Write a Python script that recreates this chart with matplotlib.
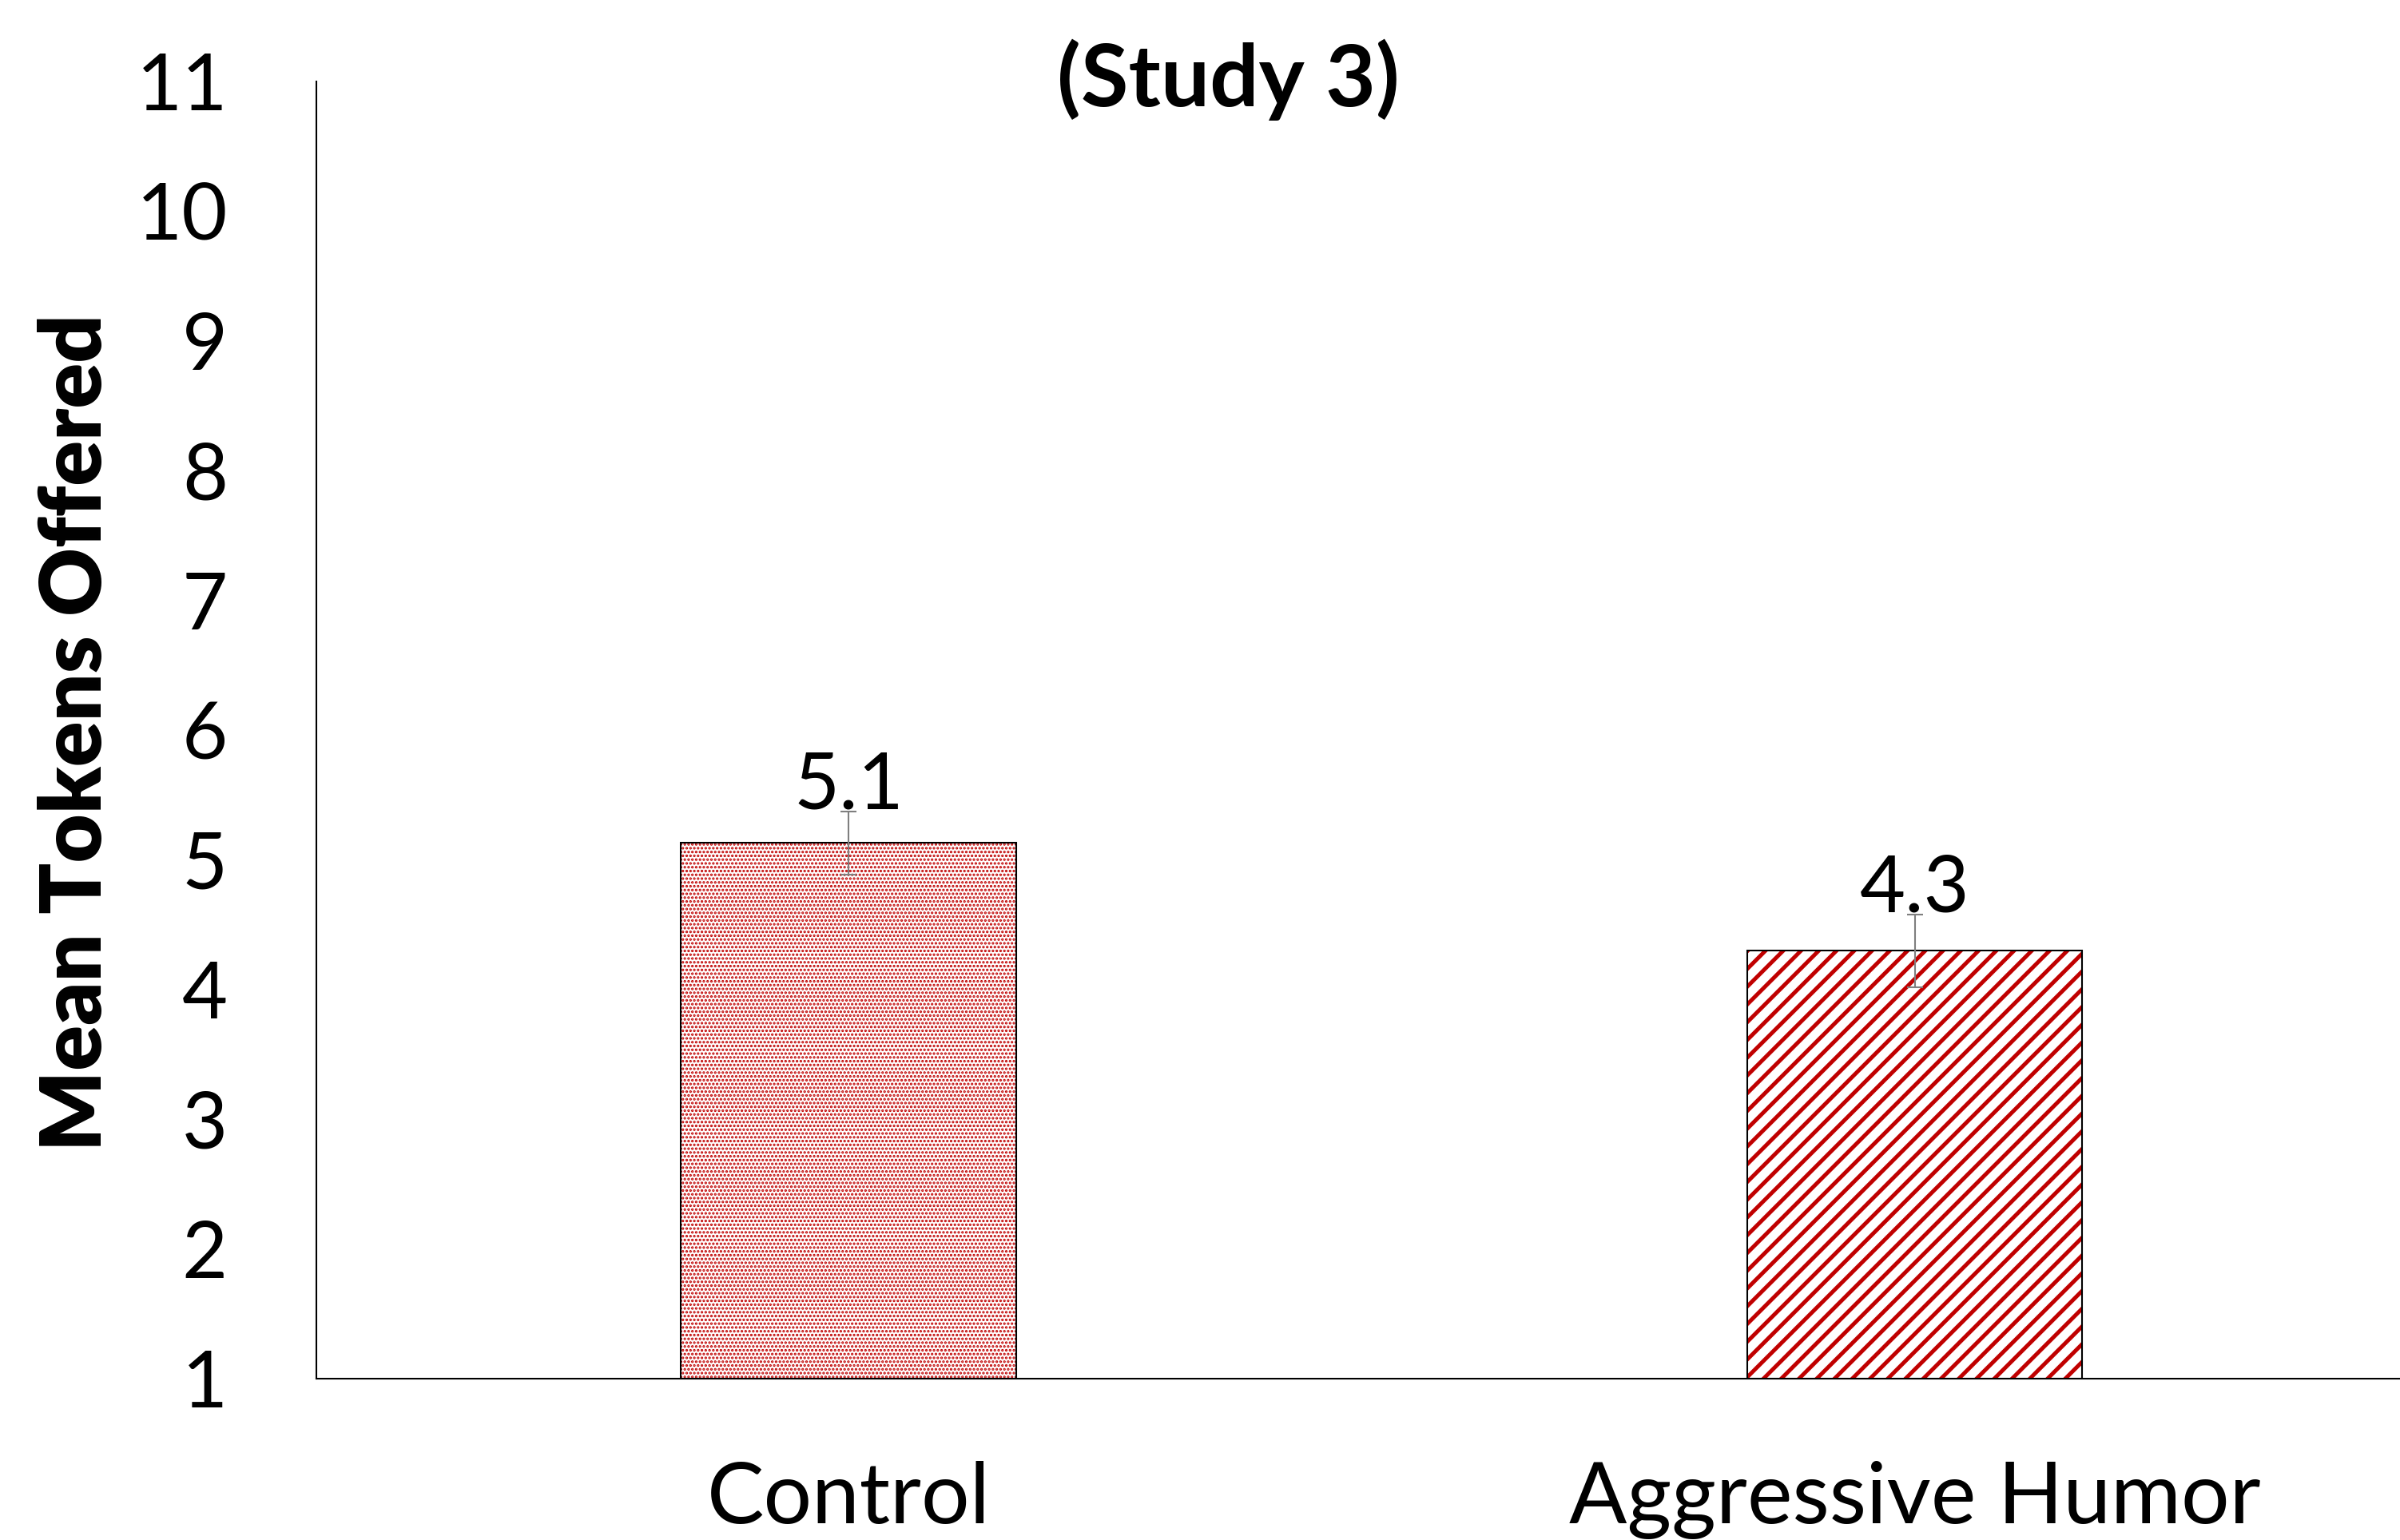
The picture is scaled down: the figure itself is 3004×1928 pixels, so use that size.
import matplotlib
matplotlib.use("Agg")
import matplotlib.pyplot as plt

# values
groups = ["Control", "Aggressive Humor"]
means = [5.13, 4.30]
errors = [0.245, 0.28]
value_labels = ["5.1", "4.3"]
yticks = [1, 2, 3, 4, 5, 6, 7, 8, 9, 10, 11]
hatches = ["......." , "///"]
hatch_widths = [0.8, 1.8]

plt.rcParams["font.family"] = ["Lato", "DejaVu Sans"]

fig = plt.figure(figsize=(15.02, 9.64), dpi=200)
ax = fig.add_axes([396 / 3004, 202 / 1928, 1 - 396 / 3004, (1726 - 102) / 1928])

x = list(range(len(groups)))
red = "#c00000"
for i in x:
    with plt.rc_context({"hatch.linewidth": hatch_widths[i]}):
        b = ax.bar(x[i], means[i] - 1, bottom=1, width=0.314, color="white",
                   edgecolor=red, linewidth=0, hatch=hatches[i], zorder=2)
        for p in b:
            if hasattr(p, "set_hatch_linewidth"):
                p.set_hatch_linewidth(hatch_widths[i])
    ax.bar(x[i], means[i] - 1, bottom=1, width=0.314, facecolor="none",
           edgecolor="black", linewidth=0.75, zorder=3)

ax.errorbar(x, means, yerr=errors, fmt="none", ecolor="#7f7f7f",
            elinewidth=0.75, capsize=3.5, capthick=0.75, zorder=4)

for i in x:
    ax.text(x[i], means[i] + errors[i] + 0.02, value_labels[i], ha="center",
            va="baseline", fontsize=35.5, zorder=5)

ax.set_ylim(1, 11)
ax.set_xlim(-0.499, 1.455)
ax.set_yticks(yticks)
ax.set_yticklabels([str(t) for t in yticks], fontsize=35.5)
ax.set_xticks(x)
ax.set_xticklabels(groups, fontsize=38.5)
ax.tick_params(axis="both", length=0)
ax.tick_params(axis="y", pad=40)
ax.tick_params(axis="x", pad=37)
for s in ["top", "right"]:
    ax.spines[s].set_visible(False)
for s in ["left", "bottom"]:
    ax.spines[s].set_linewidth(0.75)
    ax.spines[s].set_color("black")

fig.text(1537 / 3004, 1 - 100 / 1928, "(Study 3)", ha="center", va="center",
         fontsize=39, fontweight="bold")
fig.text(96 / 3004, 1 - 917 / 1928, "Mean Tokens Offered", rotation=90,
         ha="center", va="center", fontsize=38, fontweight="heavy")

fig.savefig("out.png", dpi=200)
